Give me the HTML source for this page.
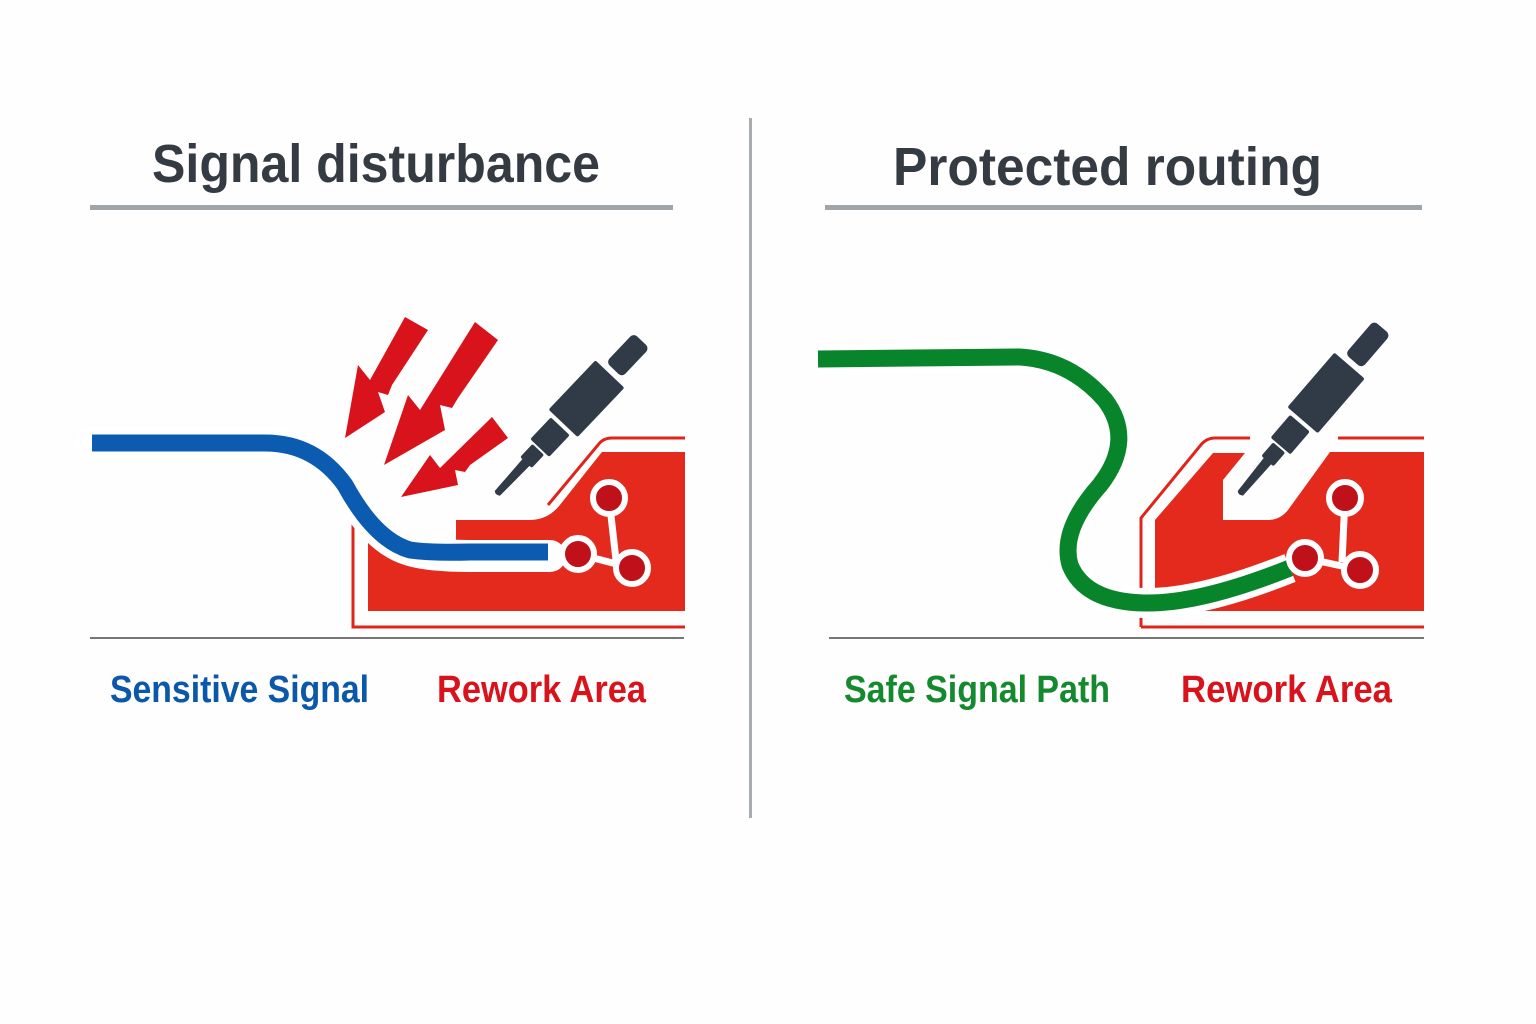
<!DOCTYPE html>
<html><head><meta charset="utf-8"><style>
html,body{margin:0;padding:0;background:#fefefe;}
svg{display:block;}
text{font-family:"Liberation Sans Narrow","Liberation Sans",sans-serif;font-weight:bold;}
</style></head><body>
<svg width="1536" height="1024" viewBox="0 0 1536 1024" xmlns="http://www.w3.org/2000/svg">
<rect width="1536" height="1024" fill="#fefefe"/>
<!-- titles -->
<text x="152" y="182" font-size="54" fill="#353b43" textLength="448" lengthAdjust="spacingAndGlyphs">Signal disturbance</text>
<rect x="90" y="205" width="583" height="5" fill="#a0a5aa"/>
<text x="893" y="185" font-size="54" fill="#353b43" textLength="429" lengthAdjust="spacingAndGlyphs">Protected routing</text>
<rect x="825" y="205" width="597" height="5" fill="#a0a5aa"/>
<rect x="749" y="118" width="3" height="700" fill="#a8acb0"/>
<rect x="90" y="637" width="594" height="2" fill="#777"/>
<rect x="829" y="637" width="595" height="2" fill="#777"/>

<!-- LEFT: red board -->
<path d="M353,518 L353,627 L685,627" fill="none" stroke="#e0241b" stroke-width="3"/>
<path d="M548,505 L598,445 Q603,438 612,438 L685,438" fill="none" stroke="#e0241b" stroke-width="3"/>
<path d="M368,540 Q400,570 480,570 L685,570 L685,452 L602,452 L560,505 Q548,520 530,520 L456,520 L456,540 Z M368,540 L368,611 L685,611 L685,560 Z" fill="#e42a1c"/>
<path d="M368,540 L368,611 L685,611 L685,452 L602,452 L560,505 Q548,520 530,520 L456,520 L456,545 Q410,545 368,540 Z" fill="#e42a1c"/>
<!-- blue signal with halo -->
<path d="M92,443 L265,443 Q315,443 345,485 Q375,540 410,550 Q430,556 470,556 L550,556" fill="none" stroke="#fff" stroke-width="32" stroke-linecap="round"/>
<path d="M92,443 L265,443 Q315,443 345,485 Q375,540 410,550 Q430,553 470,552 L548,552" fill="none" stroke="#0b5cb0" stroke-width="17"/>
<!-- pads left -->
<g stroke="#fff" stroke-width="7">
<line x1="578" y1="554" x2="632" y2="568"/><line x1="609" y1="498" x2="616" y2="560"/>
</g>
<g fill="#c0101a" stroke="#fff" stroke-width="6">
<circle cx="609" cy="498" r="16"/><circle cx="578" cy="554" r="16"/><circle cx="632" cy="568" r="16"/>
</g>
<!-- lightning arrows -->
<g fill="#d8131b">
<path d="M405,317 L428,330 L392,385 L388,395 L378,392 L385,412 L345,438 L358,365 L370,380 Z"/>
<path d="M475,322 L498,340 L458,398 L452,408 L440,405 L445,430 L384,465 L408,395 L420,410 Z"/>
<path d="M492,417 L508,438 L470,465 L465,472 L455,470 L458,485 L401,497 L430,455 L440,468 Z"/>
</g>
<!-- irons -->
<g transform="translate(497,493) rotate(-46.5)" fill="#313b48">
<path d="M0,-3 Q-3,0 0,4 L45,5 L45,-5 Z"/>
<rect x="42" y="-8" width="18" height="16" rx="2"/>
<rect x="62" y="-13" width="30" height="26" rx="2"/>
<rect x="96" y="-20" width="68" height="40" rx="2"/>
<rect x="170" y="-11" width="40" height="22" rx="5"/>
</g>
<!-- RIGHT: red board -->
<path d="M1141,627 L1141,518 L1200,446 Q1206,438 1215,438 L1250,438 M1338,438 L1424,438 M1141,627 L1424,627" fill="none" stroke="#e0241b" stroke-width="3"/>
<path d="M1155,611 L1155,520 L1213,453 L1245,453 L1223,480 L1223,520 L1268,520 Q1280,520 1288,510 L1330,452 L1424,452 L1424,611 Z" fill="#e42a1c"/>
<path d="M1075,510 L1075,590" stroke="none"/>
<!-- green signal -->
<path d="M818,358 L1020,356 Q1070,360 1105,400 Q1135,440 1100,485 Q1060,530 1070,565 Q1085,602 1145,603 Q1200,604 1290,568" fill="none" stroke="#fff" stroke-width="30"/>
<path d="M818,359 L1020,357 Q1070,360 1105,400 Q1135,440 1100,485 Q1060,530 1070,565 Q1085,602 1145,603 Q1200,604 1290,568" fill="none" stroke="#08852a" stroke-width="17"/>
<g stroke="#fff" stroke-width="7">
<line x1="1305" y1="558" x2="1360" y2="570"/><line x1="1345" y1="498" x2="1342" y2="562"/>
</g>
<g fill="#c0101a" stroke="#fff" stroke-width="6">
<circle cx="1345" cy="498" r="16"/><circle cx="1305" cy="558" r="16"/><circle cx="1360" cy="570" r="16"/>
</g>
<g transform="translate(1240,493) rotate(-49.3)" fill="#313b48">
<path d="M0,-3 Q-3,0 0,4 L45,5 L45,-5 Z"/>
<rect x="42" y="-8" width="18" height="16" rx="2"/>
<rect x="62" y="-13" width="30" height="26" rx="2"/>
<rect x="96" y="-20" width="72" height="40" rx="2"/>
<rect x="174" y="-11" width="44" height="22" rx="5"/>
</g>
<!-- labels -->
<text x="110" y="702" font-size="38" fill="#0b58ab" textLength="259" lengthAdjust="spacingAndGlyphs">Sensitive Signal</text>
<text x="437" y="702" font-size="38" fill="#d8131b" textLength="209" lengthAdjust="spacingAndGlyphs">Rework Area</text>
<text x="844" y="702" font-size="38" fill="#15892e" textLength="266" lengthAdjust="spacingAndGlyphs">Safe Signal Path</text>
<text x="1181" y="702" font-size="38" fill="#d8131b" textLength="211" lengthAdjust="spacingAndGlyphs">Rework Area</text>
</svg>
</body></html>
